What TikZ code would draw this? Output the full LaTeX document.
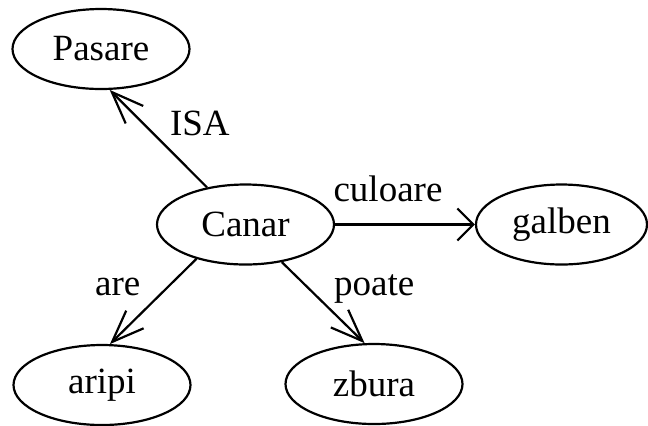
\documentclass[tikz,border=0pt]{standalone}
\usepackage{fontspec}
\setmainfont{Liberation Serif}
\usepackage{tikz}
\usetikzlibrary{positioning}
\usetikzlibrary{arrows.meta}
\usetikzlibrary{shapes.geometric}
\tikzset{concept node/.style={ellipse,draw,line width=1.1pt,minimum width=88.5pt,minimum height=40pt,inner sep=0pt,font=\fontsize{18.5}{22}\selectfont},}
\tikzset{relation/.style={anchor=base,inner sep=0pt,font=\fontsize{18.5}{22}\selectfont},
  long barb/.style={-{Straight Barb[length=16pt,width=12.4pt]}},
  short barb/.style={-{Straight Barb[length=8pt,width=16pt]}},}

\begin{document}
\begin{tikzpicture}[x=0.5pt,y=-0.5pt,line width=1.1pt]
    \useasboundingbox (0,0) rectangle (648,425);
	\node[concept node] (canar) at (245.5,224.5) {Canar};
    \node[concept node] (pasare) at (101,49) {Pasare};
    \node[concept node,minimum width=85.5pt] (galben) at (561.5,224.5) {galben};
    \node[concept node] (aripi) at (102,385) {aripi};
    \node[concept node] (zbura) at (374,384) {zbura};

    \path[draw]
    (canar.136) edge[long barb] node[relation,xshift=20.75pt,yshift=1.5pt] {ISA} (pasare.282)
    (canar.east) edge[short barb] node[relation,xshift=-8.5pt,yshift=11.75pt] {culoare} (galben.west)
    (canar.215) edge[long barb] node[relation,xshift=-17.75pt,yshift=2.75pt] {are} (aripi.79)
    (canar.314) edge[long barb] node[relation,xshift=25.5pt,yshift=3.5pt] {poate} (zbura.103);
\end{tikzpicture}
\end{document}
